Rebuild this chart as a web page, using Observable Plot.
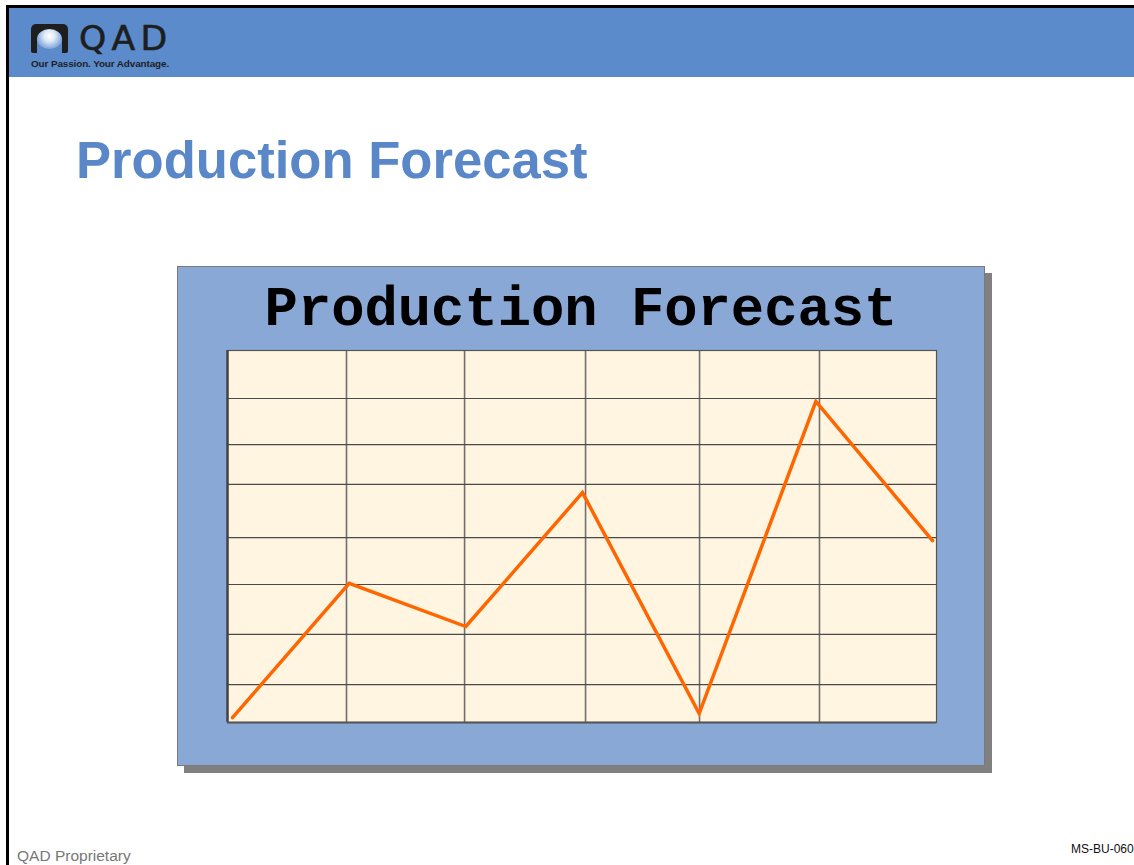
<!DOCTYPE html>
<html>
<head>
<meta charset="utf-8">
<script src="https://cdn.jsdelivr.net/npm/d3@7"></script>
<script src="https://cdn.jsdelivr.net/npm/@observablehq/plot@0.6"></script>
<style>
  html, body { margin: 0; padding: 0; background: #fff; }
  #page { position: relative; width: 1134px; height: 865px; overflow: hidden; background: #fff; font-family: "Liberation Sans", Arial, sans-serif; }
  .abs { position: absolute; }
  #topline { left: 6px; top: 5px; width: 1128px; height: 3px; background: #000; }
  #leftline { left: 6px; top: 5px; width: 3px; height: 860px; background: #000; }
  #banner { left: 9px; top: 8px; width: 1125px; height: 69px; background: #5b8bcb; }
  #icon { left: 31px; top: 24px; width: 37px; height: 29px; background: #1e1e1e; border-radius: 5px 5px 2px 2px; overflow: hidden; }
  #arch { position: absolute; left: 6px; top: 6px; width: 25px; height: 30px; border-radius: 12px 12px 0 0; background: #5b8bcb; }
  #sphere { position: absolute; left: 6px; top: 5px; width: 25px; height: 20px; border-radius: 50%;
    background: radial-gradient(circle at 50% 35%, #ffffff 0%, #dfe9f8 30%, #8fb0de 65%, #5b8bcb 100%); }
  #qad { left: 79px; top: 22px; font-size: 33px; line-height: 33px; color: #1e1e1e; letter-spacing: 5px; font-family: "DejaVu Sans", sans-serif; font-weight: normal; transform: scaleX(1.05); transform-origin: left; -webkit-text-stroke: 0.6px #1e1e1e; }
  #tag { left: 31px; top: 58px; font-size: 9.9px; line-height: 11px; font-weight: bold; color: #1e1e1e; white-space: nowrap; letter-spacing: -0.1px; }
  #title { left: 76px; top: 133px; font-size: 52.6px; line-height: 53px; font-weight: bold; color: #5a87c7; white-space: nowrap; }
  #shadow { left: 184px; top: 273px; width: 808px; height: 500px; background: #808080; }
  #panel { left: 177px; top: 266px; width: 806px; height: 498px; background: #8aa8d6; border: 1px solid #7a7a7a; }
  #ctitle { left: 177px; top: 282px; width: 808px; text-align: center; font-family: "Courier New", "Liberation Mono", monospace; font-weight: bold; font-size: 55.5px; line-height: 57px; color: #000; white-space: nowrap; }
  #chart { left: 225px; top: 348px; }
  #foot { left: 17px; top: 847px; font-size: 15.5px; line-height: 18px; color: #777; white-space: nowrap; }
  #code { left: 1071px; top: 842px; font-size: 12px; line-height: 14px; color: #111; white-space: nowrap; }
</style>
</head>
<body>
<div id="page">
  <div class="abs" id="topline"></div>
  <div class="abs" id="leftline"></div>
  <div class="abs" id="banner"></div>
  <div class="abs" id="icon"><div id="arch"></div><div id="sphere"></div></div>
  <div class="abs" id="qad">QAD</div>
  <div class="abs" id="tag">Our Passion. Your Advantage.</div>
  <div class="abs" id="title">Production Forecast</div>
  <div class="abs" id="shadow"></div>
  <div class="abs" id="panel"></div>
  <div class="abs" id="ctitle">Production Forecast</div>
  <div class="abs" id="chart"></div>
  <div class="abs" id="foot">QAD Proprietary</div>
  <div class="abs" id="code">MS-BU-060</div>
</div>
<script>
// Periods along the horizontal axis (no labels shown in the original)
const periods = [0, 1, 2, 3, 4, 5, 6];
// Forecast values (0–100 relative scale)
const forecast = [1.3, 37.4, 25.8, 61.8, 2.4, 86.3, 48.9];
// Vertical grid line positions (period units)
const gridX = [0.977, 1.989, 3.026, 4.003, 5.031];
// Horizontal grid line positions (value units)
const gridY = [10.2, 23.7, 37.1, 49.7, 64.0, 74.7, 87.1];
const xDomain = [-0.043, 6.034];
const yDomain = [0, 100];

const data = periods.map((p, i) => ({period: p, value: forecast[i]}));

const chart = Plot.plot({
  width: 713,
  height: 376,
  margin: 2,
  x: {domain: xDomain, axis: null},
  y: {domain: yDomain, axis: null},
  style: {background: "transparent", overflow: "visible"},
  marks: [
    Plot.frame({fill: "#fff5e1", stroke: null}),
    Plot.ruleX(gridX, {stroke: "#707070", strokeWidth: 1.6}),
    Plot.ruleY(gridY, {stroke: "#4a4a4a", strokeWidth: 1.2}),
    Plot.frame({stroke: "#555555", strokeWidth: 1.2}),
    Plot.ruleX([xDomain[0]], {stroke: "#444444", strokeWidth: 2.5}),
    Plot.ruleY([yDomain[0]], {stroke: "#555555", strokeWidth: 2}),
    Plot.line(data, {x: "period", y: "value", stroke: "#ff6600", strokeWidth: 3.5, strokeLinejoin: "miter", strokeMiterlimit: 10, curve: "linear"})
  ]
});
document.getElementById("chart").appendChild(chart);
</script>
</body>
</html>
